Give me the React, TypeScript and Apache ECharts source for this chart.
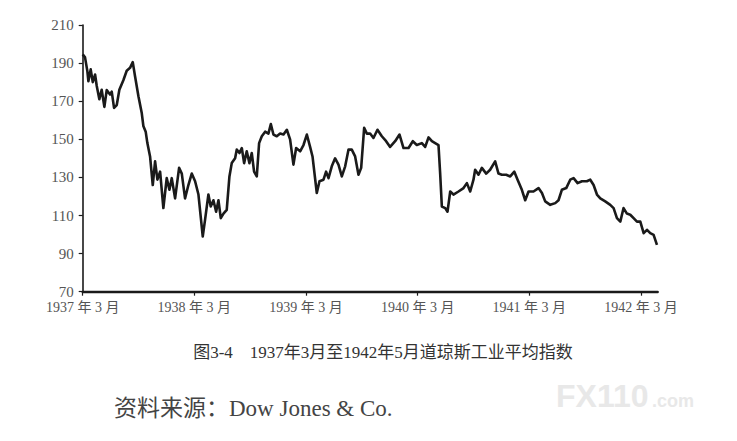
import React, { useEffect, useRef } from "react";
import * as echarts from "echarts";

// months since March 1937
const months: number[] = [
  0.0, 0.25, 0.5, 0.61, 0.86, 1.08, 1.33, 1.51, 1.79, 2.04, 2.33, 2.58, 2.94, 3.12, 3.37, 3.66, 3.94, 4.37, 4.73, 5.09,
  5.38, 5.63, 5.99, 6.34, 6.52, 6.77, 6.95, 7.24, 7.53, 7.78, 8.03, 8.32, 8.67, 9.03, 9.32, 9.57, 9.93, 10.36, 10.65, 11.0,
  11.36, 11.72, 12.08, 12.44, 12.72, 12.9, 13.15, 13.51, 13.76, 14.05, 14.34, 14.59, 14.84, 15.13, 15.48, 15.77, 16.02, 16.38, 16.56, 16.85,
  17.1, 17.35, 17.63, 17.92, 18.17, 18.42, 18.71, 18.96, 19.25, 19.61, 19.96, 20.22, 20.5, 20.86, 21.22, 21.58, 21.94, 22.29, 22.65, 22.94,
  23.37, 23.73, 24.09, 24.44, 24.7, 25.16, 25.45, 25.88, 26.16, 26.42, 26.77, 27.13, 27.49, 27.85, 28.21, 28.57, 28.92, 29.28, 29.64, 29.93,
  30.25, 30.54, 30.89, 31.25, 31.68, 32.15, 32.61, 33.04, 33.58, 34.05, 34.48, 35.02, 35.48, 35.91, 36.45, 36.81, 37.17, 37.53, 37.88, 38.24,
  38.42, 38.6, 38.96, 39.21, 39.5, 39.85, 40.39, 40.93, 41.29, 41.65, 42.0, 42.18, 42.54, 42.9, 43.37, 43.79, 44.33, 44.69, 45.05, 45.52,
  45.95, 46.39, 46.74, 47.2, 47.56, 47.92, 48.45, 48.99, 49.36, 49.71, 50.25, 50.79, 51.14, 51.5, 51.97, 52.4, 52.76, 53.19, 53.66, 54.19,
  54.55, 54.91, 55.27, 55.63, 56.16, 56.7, 57.06, 57.42, 57.78, 58.13, 58.49, 58.85, 59.21, 59.57, 59.93, 60.29, 60.65, 61.0, 61.36, 61.72,
];

const djia: number[] = [
  194.6, 193, 185.8, 180.5, 186.7, 180, 184, 178, 171, 176, 167, 175.8, 173.5, 175, 166.5, 168, 176, 181, 186, 187.5,
  190.5, 183, 172.6, 164, 157, 154, 148, 141, 126, 138.4, 128.8, 133, 113.9, 129.6, 123.5, 129.6, 119, 135, 132, 119,
  126, 132, 128, 121, 107.7, 99, 107.7, 121, 114.7, 118, 112, 118, 108.6, 111, 113, 130.5, 137.5, 140, 144.6, 142.8,
  145.4, 137.5, 143.7, 137.5, 142.8, 133, 130.5, 148, 151.6, 154, 153, 158, 152.5, 151.6, 153, 152.5, 155, 150, 136.7, 145.4,
  143.7, 147, 152.5, 146, 141, 121.8, 128, 128.8, 133, 129.6, 135.8, 140, 136.7, 130.5, 135.8, 144.6, 144.6, 141, 131.4, 135,
  156, 153, 153, 150.7, 155, 151.6, 149, 146, 149, 152.5, 145.4, 145.4, 149, 147, 148, 146, 151, 149, 148, 147,
  132, 114.7, 113.9, 112, 122.6, 121, 122.6, 124.4, 127, 122.6, 128.8, 134, 131.4, 135, 132, 134, 138.4, 132, 131.4, 131.4,
  130.5, 133, 128.8, 123.5, 118, 122.6, 122.6, 124.4, 121.8, 117.4, 115.6, 116.5, 118, 123.5, 124.4, 128.8, 129.6, 127, 128, 128,
  128.8, 126, 121, 119, 117.4, 115.6, 113.9, 108.6, 106.8, 113.9, 111, 110.4, 108.6, 106.8, 106.8, 100.7, 102.5, 100.7, 99.8, 94.6,
];

const yearTicks: string[] = ["1937", "1938", "1939", "1940", "1941", "1942"];
const caption = "图3-4　1937年3月至1942年5月道琼斯工业平均指数";
const source = "资料来源：Dow Jones & Co.";

export default function App() {
  const ref = useRef<HTMLDivElement>(null);
  useEffect(() => {
    if (!ref.current) return;
    const chart = echarts.init(ref.current, null, { renderer: "svg" });
    const seriesData = months.map((m, i) => [m, djia[i]]);
    chart.setOption({
      animation: false,
      backgroundColor: "#ffffff",
      grid: { left: 82.7, right: 79.3, top: 25, bottom: 149.3, containLabel: false },
      xAxis: {
        type: "value",
        min: 0,
        max: 61.8,
        interval: 12,
        axisLine: { show: true, lineStyle: { color: "#1a1a1a", width: 2.4 } },
        axisTick: { show: true, length: 4, lineStyle: { color: "#1a1a1a", width: 1.2 } },
        splitLine: { show: false },
        axisLabel: {
          color: "#555",
          fontSize: 14,
          fontFamily: "Liberation Serif, Noto Sans CJK SC, serif",
          margin: 9,
          formatter: (v: number) => {
            const idx = Math.round(v / 12);
            return yearTicks[idx] ? yearTicks[idx] + " 年 3 月" : "";
          },
        },
      },
      yAxis: {
        type: "value",
        min: 70,
        max: 210,
        interval: 20,
        axisLine: { show: true, lineStyle: { color: "#1a1a1a", width: 1.6 } },
        axisTick: { show: true, length: 4, lineStyle: { color: "#1a1a1a", width: 1.2 } },
        splitLine: { show: false },
        axisLabel: {
          color: "#555",
          fontSize: 15,
          fontFamily: "Liberation Serif, serif",
          margin: 9,
        },
      },
      series: [
        {
          type: "line",
          data: seriesData,
          showSymbol: false,
          symbol: "none",
          lineStyle: { color: "#1a1a1a", width: 2.6, join: "round" },
        },
      ],
      graphic: [
        {
          type: "text",
          x: 383,
          y: 352,
          style: {
            text: caption,
            fill: "#333",
            align: "center",
            verticalAlign: "middle",
            font: "17px 'Liberation Serif', 'Noto Sans CJK SC', serif",
          },
        },
        {
          type: "text",
          x: 114,
          y: 408,
          style: {
            text: source,
            fill: "#444",
            verticalAlign: "middle",
            font: "23px 'Liberation Serif', 'Noto Sans CJK SC', serif",
          },
        },
        {
          type: "text",
          x: 556,
          y: 380,
          style: {
            text: "FX110",
            fill: "#e8e8e8",
            font: "bold 32px 'Liberation Sans', sans-serif",
          },
        },
        {
          type: "text",
          x: 652,
          y: 392,
          style: {
            text: ".com",
            fill: "#e8e8e8",
            font: "bold 18px 'Liberation Sans', sans-serif",
          },
        },
      ],
    });
    return () => chart.dispose();
  }, []);
  return (
    <div
      ref={ref}
      style={{ position: "fixed", left: 0, top: 0, width: 737, height: 441 }}
    />
  );
}
